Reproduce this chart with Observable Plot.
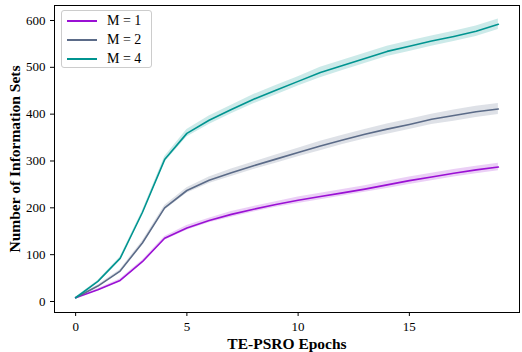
<!DOCTYPE html>
<html><head><meta charset="utf-8">
<script src="https://cdn.jsdelivr.net/npm/d3@7"></script>
<script src="https://cdn.jsdelivr.net/npm/@observablehq/plot@0.6"></script>
<style>
body{margin:0;background:#fff;}
#wrap{position:relative;width:522px;height:352px;font-family:"Liberation Serif",serif;}
#wrap svg{font-family:"Liberation Serif",serif;}
g[aria-label="x-axis label"] text, g[aria-label="y-axis label"] text{font-weight:bold;font-size:15.5px;}
#legend{position:absolute;left:61px;top:10px;width:89px;height:56px;border:1px solid #ccc;border-radius:3px;background:rgba(255,255,255,0.85);font-size:14px;}
#legend div{display:flex;align-items:center;height:18px;margin-top:1px;}
#legend span.sw{display:inline-block;width:30px;height:0;border-top:2px solid;margin:0 10px 0 5px;}
</style></head>
<body><div id="wrap"><div id="legend"></div></div>
<script>
const epochs = d3.range(0, 20);
const seriesNames = ["M = 1", "M = 2", "M = 4"];
const colors = ["#9a10d4", "#5b6b88", "#009490"];
const m1 = [8, 25, 45, 85, 135, 157, 173, 186, 197, 207, 216, 224, 232, 240, 249, 258, 266, 274, 281, 287];
const m2 = [8, 33, 65, 125, 200, 237, 259, 275, 290, 304, 318, 332, 345, 357, 368, 378, 389, 397, 405, 411];
const m4 = [8, 43, 92, 190, 303, 359, 387, 410, 432, 451, 470, 489, 504, 519, 534, 545, 556, 566, 577, 592];
const m1Spread = [1, 2, 3, 3, 4, 5, 5, 6, 6, 6, 7, 7, 7, 7, 8, 8, 8, 8, 8, 8];
const m2Spread = [1, 2, 3, 4, 5, 6, 7, 8, 8, 9, 9, 10, 10, 10, 11, 11, 11, 12, 12, 12];
const m4Spread = [1, 2, 3, 4, 6, 8, 9, 9, 10, 10, 10, 11, 11, 11, 11, 11, 11, 11, 11, 11];
const xTicks = [0, 5, 10, 15];
const yTicks = [0, 100, 200, 300, 400, 500, 600];

const vals = [m1, m2, m4];
const spreads = [m1Spread, m2Spread, m4Spread];
const data = [];
seriesNames.forEach((s, i) => epochs.forEach((e, j) => data.push({series: s, epoch: e, value: vals[i][j], lo: vals[i][j] - spreads[i][j], hi: vals[i][j] + spreads[i][j]})));

const chart = Plot.plot({
  width: 522, height: 352,
  marginLeft: 54, marginRight: 3, marginTop: 5, marginBottom: 40,
  style: {fontSize: "13px", fontFamily: "Liberation Serif, serif", color: "#000", background: "#fff"},
  x: {domain: [-0.95, 19.95], ticks: xTicks, tickSize: 4, label: "TE-PSRO Epochs", labelArrow: "none", labelAnchor: "center", labelOffset: 36},
  y: {domain: [-23.5, 632], ticks: yTicks, tickSize: 4, label: "Number of Information Sets", labelArrow: "none", labelAnchor: "center", labelOffset: 46},
  color: {domain: seriesNames, range: colors},
  marks: [
    Plot.areaY(data, {x: "epoch", y1: "lo", y2: "hi", z: "series", fill: "series", fillOpacity: 0.2}),
    Plot.lineY(data, {x: "epoch", y: "value", z: "series", stroke: "series", strokeWidth: 1.6}),
    Plot.frame({stroke: "#000", strokeWidth: 1})
  ]
});
document.getElementById("wrap").prepend(chart);
const leg = document.getElementById("legend");
seriesNames.forEach((s, i) => {
  const d = document.createElement("div");
  d.innerHTML = `<span class="sw" style="border-color:${colors[i]}"></span>${s}`;
  leg.appendChild(d);
});
</script></body></html>
